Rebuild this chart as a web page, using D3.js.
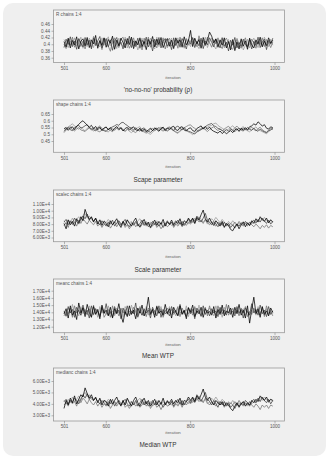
<!DOCTYPE html>
<html>
<head>
<meta charset="utf-8">
<script src="https://cdn.jsdelivr.net/npm/d3@7"></script>
<style>
  body { margin: 0; background: #fff; }
  .tick text { fill: #555; }
  .tick line { stroke: #777; }
</style>
</head>
<body>
<div class="container"></div>
<script>
// iterations kept after burn-in, thinned every 5
const iterations = d3.range(501, 1001, 5);
const xTicks = [501, 600, 800, 1000];

// 'no-no-no' probability, 4 chains
const pChains = [
  [0.408,0.392,0.418,0.389,0.411,0.398,0.422,0.386,0.409,0.416,
   0.395,0.42,0.39,0.413,0.401,0.426,0.388,0.41,0.397,0.419,
   0.391,0.414,0.403,0.424,0.385,0.412,0.396,0.418,0.405,0.389,
   0.417,0.399,0.421,0.387,0.41,0.398,0.419,0.393,0.408,0.384,
   0.414,0.4,0.423,0.392,0.415,0.399,0.42,0.39,0.407,0.417,
   0.394,0.412,0.387,0.419,0.403,0.413,0.391,0.422,0.398,0.41,
   0.441,0.393,0.418,0.401,0.414,0.388,0.42,0.399,0.411,0.436,
   0.424,0.404,0.416,0.391,0.413,0.397,0.419,0.389,0.408,0.383,
   0.414,0.381,0.407,0.386,0.416,0.394,0.41,0.385,0.418,0.398,
   0.389,0.413,0.4,0.421,0.392,0.409,0.396,0.419,0.403,0.412],
  [0.39,0.415,0.399,0.422,0.393,0.409,0.385,0.417,0.404,0.392,
   0.42,0.398,0.412,0.386,0.418,0.396,0.41,0.423,0.389,0.404,
   0.417,0.392,0.413,0.382,0.409,0.42,0.394,0.406,0.386,0.415,
   0.4,0.424,0.39,0.41,0.396,0.418,0.388,0.412,0.402,0.421,
   0.392,0.408,0.38,0.415,0.398,0.42,0.389,0.41,0.417,0.394,
   0.406,0.384,0.419,0.396,0.412,0.391,0.417,0.403,0.386,0.414,
   0.4,0.42,0.39,0.409,0.395,0.418,0.387,0.41,0.398,0.419,
   0.406,0.392,0.415,0.403,0.389,0.418,0.394,0.406,0.38,0.412,
   0.397,0.42,0.389,0.405,0.393,0.415,0.4,0.391,0.414,0.386,
   0.409,0.396,0.421,0.39,0.406,0.415,0.384,0.411,0.4,0.418],
  [0.4,0.387,0.414,0.397,0.421,0.391,0.407,0.415,0.393,0.409,
   0.386,0.414,0.403,0.39,0.423,0.4,0.395,0.412,0.384,0.418,
   0.405,0.394,0.379,0.41,0.419,0.398,0.39,0.415,0.421,0.397,
   0.409,0.388,0.403,0.419,0.392,0.406,0.414,0.383,0.418,0.399,
   0.421,0.391,0.412,0.404,0.389,0.415,0.397,0.419,0.386,0.409,
   0.418,0.395,0.404,0.412,0.388,0.421,0.401,0.391,0.415,0.397,
   0.409,0.418,0.403,0.393,0.425,0.399,0.412,0.395,0.421,0.405,
   0.391,0.414,0.401,0.419,0.397,0.387,0.41,0.418,0.403,0.39,
   0.385,0.406,0.414,0.397,0.388,0.405,0.419,0.395,0.4,0.415,
   0.403,0.388,0.41,0.399,0.419,0.393,0.414,0.403,0.39,0.407],
  [0.414,0.403,0.39,0.41,0.399,0.419,0.395,0.405,0.421,0.388,
   0.412,0.393,0.418,0.406,0.39,0.415,0.401,0.392,0.419,0.397,
   0.41,0.422,0.396,0.403,0.414,0.387,0.418,0.401,0.393,0.421,
   0.389,0.412,0.415,0.395,0.407,0.383,0.403,0.418,0.391,0.414,
   0.401,0.418,0.395,0.386,0.421,0.393,0.409,0.403,0.415,0.389,
   0.405,0.418,0.391,0.401,0.419,0.397,0.407,0.388,0.418,0.403,
   0.393,0.409,0.415,0.397,0.387,0.412,0.403,0.421,0.39,0.407,
   0.418,0.396,0.386,0.412,0.403,0.421,0.389,0.401,0.414,0.393,
   0.407,0.39,0.418,0.401,0.412,0.383,0.397,0.415,0.389,0.407,
   0.418,0.401,0.39,0.412,0.395,0.421,0.405,0.393,0.415,0.397]
];
const pTicks = [0.36, 0.38, 0.40, 0.42, 0.44, 0.46];

// shape parameter
const shapeChains = [
  [0.538,0.551,0.529,0.547,0.555,0.534,0.56,0.573,0.59,0.6,
   0.583,0.568,0.552,0.566,0.541,0.558,0.533,0.55,0.528,0.546,
   0.554,0.532,0.549,0.527,0.545,0.557,0.536,0.548,0.524,0.543,
   0.551,0.53,0.546,0.555,0.533,0.527,0.545,0.521,0.538,0.519,
   0.532,0.545,0.526,0.548,0.535,0.522,0.544,0.552,0.529,0.546,
   0.537,0.553,0.559,0.534,0.528,0.55,0.556,0.531,0.524,0.542,
   0.548,0.527,0.521,0.543,0.552,0.562,0.538,0.557,0.536,0.553,
   0.532,0.522,0.515,0.508,0.524,0.505,0.519,0.503,0.516,0.527,
   0.512,0.533,0.54,0.521,0.545,0.529,0.549,0.533,0.556,0.562,
   0.577,0.568,0.592,0.578,0.56,0.571,0.545,0.538,0.555,0.548],
  [0.522,0.54,0.551,0.533,0.527,0.549,0.558,0.566,0.545,0.552,
   0.563,0.571,0.548,0.541,0.534,0.525,0.547,0.554,0.532,0.526,
   0.521,0.539,0.546,0.555,0.562,0.572,0.566,0.584,0.589,0.575,
   0.565,0.552,0.546,0.531,0.549,0.532,0.523,0.541,0.547,0.53,
   0.522,0.514,0.528,0.539,0.546,0.527,0.537,0.551,0.531,0.524,
   0.536,0.545,0.527,0.552,0.561,0.544,0.533,0.55,0.531,0.522,
   0.517,0.509,0.503,0.516,0.528,0.534,0.545,0.556,0.567,0.574,
   0.58,0.562,0.557,0.543,0.538,0.527,0.521,0.536,0.523,0.54,
   0.527,0.519,0.535,0.544,0.53,0.547,0.533,0.551,0.537,0.529,
   0.545,0.53,0.522,0.538,0.526,0.518,0.512,0.525,0.533,0.545],
  [0.512,0.532,0.545,0.556,0.534,0.525,0.539,0.549,0.532,0.527,
   0.52,0.536,0.546,0.531,0.549,0.535,0.524,0.518,0.533,0.545,
   0.552,0.537,0.528,0.519,0.535,0.546,0.53,0.551,0.536,0.523,
   0.538,0.549,0.529,0.52,0.513,0.528,0.54,0.524,0.517,0.508,
   0.522,0.536,0.544,0.527,0.54,0.55,0.533,0.523,0.538,0.546,
   0.555,0.536,0.527,0.518,0.511,0.527,0.539,0.548,0.557,0.566,
   0.57,0.553,0.544,0.531,0.522,0.538,0.549,0.533,0.52,0.535,
   0.546,0.556,0.538,0.527,0.541,0.525,0.539,0.55,0.559,0.541,
   0.532,0.547,0.56,0.544,0.531,0.523,0.54,0.528,0.542,0.553,
   0.536,0.525,0.541,0.552,0.533,0.522,0.514,0.531,0.544,0.534],
  [0.548,0.533,0.556,0.565,0.578,0.56,0.549,0.536,0.553,0.535,
   0.526,0.544,0.554,0.535,0.524,0.539,0.552,0.563,0.546,0.532,
   0.525,0.516,0.535,0.545,0.528,0.547,0.557,0.539,0.53,0.52,
   0.537,0.521,0.512,0.527,0.538,0.549,0.556,0.534,0.526,0.516,
   0.508,0.499,0.516,0.528,0.537,0.546,0.553,0.534,0.525,0.54,
   0.553,0.536,0.525,0.514,0.506,0.522,0.533,0.545,0.526,0.516,
   0.509,0.497,0.511,0.523,0.535,0.544,0.551,0.533,0.553,0.561,
   0.566,0.578,0.583,0.565,0.554,0.545,0.534,0.524,0.539,0.551,
   0.563,0.545,0.536,0.527,0.545,0.557,0.538,0.526,0.518,0.533,
   0.542,0.555,0.536,0.527,0.519,0.511,0.503,0.52,0.531,0.542]
];
const shapeTicks = [0.45, 0.50, 0.55, 0.60, 0.65];

// scale parameter
const scaleChains = [
  [8100,7300,8600,7900,8400,7700,8800,8200,9100,8500,
   10200,9300,8700,9100,8300,8900,8000,8600,7800,8400,
   8100,7600,8500,7900,8300,8800,8000,7500,8400,7800,
   8600,8100,7700,8400,8900,8000,7600,8200,8700,7900,
   8300,7500,8100,8600,7800,8400,8000,8700,7700,8300,
   8000,8600,7900,8400,8100,8800,7800,8500,8200,8900,
   8400,8900,8100,9000,8600,9400,10100,8800,8300,8900,
   8200,7800,8500,8100,7700,8400,7500,8100,7800,7200,
   7000,7600,8000,7300,7900,8300,7600,8200,7800,8500,
   8100,8800,8300,9100,8700,8400,8900,8200,8600,8300],
  [8300,8700,7900,8500,8100,8900,8400,8000,8700,9200,
   8800,9500,8600,9000,8400,8800,8200,7900,8500,8100,
   7800,8300,8000,8600,7700,8200,8500,7900,8300,8700,
   8000,7600,8200,7900,8400,7700,8100,8600,7800,8200,
   7600,8000,8400,7900,8300,7700,8200,7500,8000,8500,
   7900,8300,7700,8100,8600,8000,8400,7800,8300,8700,
   8200,8800,8400,9200,8700,8300,8900,9600,8600,8200,
   7900,8400,8000,7600,8200,7800,8300,7700,8100,7500,
   7900,7400,8000,7700,8200,7900,8400,8100,7800,8300,
   8600,8200,8700,8300,8900,8500,8100,8600,8000,8400],
  [7800,8200,7500,8400,7900,8300,7700,8600,8100,8800,
   8400,8000,8600,8200,7900,8400,7700,8100,7500,8000,
   7700,8200,7400,7900,8300,7600,8100,7800,8400,7500,
   7900,7300,7800,8200,7600,8000,7500,7900,8300,7700,
   8100,7400,7800,8200,7500,7900,7300,7800,8100,7600,
   7900,8300,7500,8000,7700,8200,7600,8100,7800,8300,
   8000,8500,8100,8800,8300,8600,8100,8700,8200,7900,
   8400,8000,7700,8300,7900,8200,7600,8000,7700,8100,
   7800,8300,7900,8400,8000,7700,8200,7800,8300,7900,
   7600,8000,7700,7300,7800,7500,7900,7400,7800,7600],
  [8500,8000,8700,8200,8900,8300,8700,9100,8600,9300,
   9600,8900,9200,8700,8500,8900,8300,8700,8100,8500,
   8200,8700,8300,7900,8400,8000,8500,8100,7800,8300,
   8700,8200,8400,7800,8100,8500,8800,8200,7900,8400,
   8000,8300,7700,8100,8500,8200,7800,8300,7900,8400,
   8100,7800,8200,8500,7900,8300,7700,8000,8400,8000,
   8600,8200,8900,8500,9100,8700,8300,8600,8000,8400,
   8800,8500,9000,8600,8200,8700,8300,7900,8400,8000,
   8500,8100,7700,8200,7800,8400,8000,7700,8300,8000,
   8400,8100,8600,8900,8500,9000,8600,8200,8700,8300]
];
const scaleTicks = [6000, 7000, 8000, 9000, 10000, 11000];

// mean WTP
const meanChains = [
  [13800,14500,13200,14900,13600,14200,13000,15300,13900,14600,
   13400,15100,14000,13300,14800,13700,14400,13100,15000,13900,
   14300,13500,14700,13200,14500,13800,15200,13600,12600,14100,
   13400,14900,13700,14300,13100,14600,13900,15000,13500,14200,
   16100,13700,14400,13300,14800,13900,14200,13600,15100,13800,
   14500,13200,14700,14000,13500,14900,13700,14300,13100,14600,
   14000,15000,13400,14200,13800,14700,13300,14500,13900,14100,
   13600,14800,13200,14400,13700,15000,13500,14200,13900,14600,
   13300,14700,13800,15100,13600,14300,13200,14900,12500,14400,
   16100,13800,14500,13300,14800,13700,14200,13500,14600,14000],
  [14200,13500,14800,13900,14400,13300,14700,14100,13600,15000,
   13800,14300,13200,14900,13700,14500,14000,13400,14600,13800,
   15200,13600,14100,13300,14800,13900,14300,13100,14600,13700,
   14900,13500,14200,13800,15300,13400,14100,13600,14500,13900,
   14300,13200,14700,14000,13500,14900,13300,14400,13800,14100,
   13500,14800,13900,14300,13600,15100,13800,14200,13400,14700,
   13800,14400,13100,14600,14000,13500,14900,13700,14300,13500,
   14500,13900,14200,13400,14700,13800,14300,13600,15000,13700,
   14200,13500,14800,13900,14400,13200,14600,14100,13600,15200,
   13900,14400,13600,15000,13800,14300,13400,14800,13700,14200],
  [13500,14100,13800,14600,13300,14900,13900,14300,13600,14700,
   14100,13700,14500,13400,15000,13800,14200,13600,14800,13300,
   13800,14400,13300,14900,13700,14300,13500,14600,13900,14400,
   13600,14200,13800,14700,14000,13300,14800,13600,14300,13400,
   14600,13900,14300,13600,14900,13800,14500,13300,14200,14600,
   13900,14400,13700,14100,14800,13400,14600,13900,14400,13800,
   14300,13600,14800,13900,14400,13400,14100,14700,13500,14900,
   13800,14300,13600,14900,13900,14400,13700,15100,13600,14200,
   14500,13800,14300,13500,14600,13900,14800,13400,14100,13700,
   14600,13900,14200,13600,14700,13400,14900,13800,14100,13500],
  [14000,13400,14600,13900,15100,13700,14300,13500,14800,13800,
   14400,13600,14900,14100,13600,14500,13300,14800,13900,14400,
   13700,14900,13800,14200,13500,14600,13900,14400,13300,14800,
   14200,13600,15000,13900,14400,13700,14600,14100,13500,14800,
   13600,14500,13900,14300,13700,14100,14800,13500,14300,13700,
   14800,13600,14300,13500,14600,13900,14200,13700,14900,13400,
   14500,13900,14600,13700,15000,13600,14400,13800,14200,14600,
   14100,13500,14900,13900,14500,13300,14700,13900,14200,13800,
   14600,13900,14400,13700,14200,14500,13600,14100,13700,14900,
   14300,13600,14800,13900,14400,13900,14500,13600,14300,13800]
];
const meanTicks = [12000, 13000, 14000, 15000, 16000, 17000];

// median WTP
const medianChains = [
  [3600,4300,3900,4500,4100,4700,4000,4400,4800,4600,
   5400,4900,4500,4800,4300,4600,4100,4500,3900,4300,
   4200,3800,4400,4000,4300,4600,4100,3800,4300,3900,
   4500,4100,3800,4300,4600,4100,3800,4200,4500,4000,
   4300,3800,4100,4400,3900,4300,4000,4500,3900,4200,
   4100,4400,4000,4300,4100,4500,3900,4300,4200,4600,
   4300,4600,4200,4700,4400,4800,5300,4600,4300,4600,
   4200,3900,4300,4100,3900,4200,3800,4100,3900,3600,
   3400,3800,4100,3700,4000,4200,3800,4100,3900,4300,
   4100,4400,4200,4700,4500,4300,4600,4200,4400,4300],
  [4200,4400,4000,4300,4100,4500,4300,4000,4400,4800,
   4500,4900,4400,4600,4300,4500,4200,4000,4300,4100,
   3900,4200,4000,4400,3800,4100,4300,3900,4200,4400,
   4000,3800,4200,3900,4300,3800,4100,4400,3900,4200,
   3800,4000,4300,3900,4200,3800,4100,3700,4000,4300,
   3900,4200,3800,4100,4400,4000,4300,3900,4200,4400,
   4100,4500,4200,4800,4500,4200,4600,5000,4400,4200,
   3900,4300,4000,3700,4200,3900,4200,3800,4100,3700,
   3900,3600,4000,3800,4100,3900,4300,4100,3800,4200,
   4400,4100,4500,4200,4600,4300,4100,4400,4000,4300],
  [3900,4100,3800,4300,4000,4200,3800,4400,4100,4500,
   4300,4000,4400,4100,3900,4200,3800,4100,3700,4000,
   3800,4100,3600,3900,4200,3800,4100,3900,4300,3700,
   3900,3600,3900,4100,3800,4000,3700,3900,4200,3800,
   4100,3600,3900,4100,3700,3900,3500,3900,4100,3800,
   3900,4200,3700,4000,3800,4100,3700,4100,3900,4200,
   4000,4300,4100,4500,4200,4400,4100,4500,4100,3900,
   4200,4000,3800,4200,3900,4100,3700,4000,3800,4100,
   3900,4200,3900,4300,4000,3800,4100,3900,4200,3900,
   3700,4000,3800,3500,3900,3700,3900,3600,3900,3800],
  [4300,4000,4400,4100,4600,4200,4400,4700,4300,4800,
   5000,4600,4800,4400,4300,4500,4200,4400,4100,4300,
   4100,4400,4200,3900,4200,4000,4300,4100,3900,4100,
   4400,4100,4200,3900,4100,4300,4500,4100,3900,4200,
   4000,4200,3800,4000,4300,4100,3900,4200,4000,4200,
   4000,3900,4100,4300,3900,4200,3800,4000,4200,4000,
   4300,4100,4500,4300,4700,4400,4200,4400,4000,4200,
   4500,4300,4600,4300,4100,4400,4200,3900,4200,4000,
   4300,4000,3800,4100,3900,4200,4000,3800,4200,4000,
   4200,4100,4400,4600,4300,4600,4400,4100,4400,4200]
];
const medianTicks = [3000, 4000, 5000, 6000];

const chainLabels = ['R chains 1:4', 'shape chains 1:4', 'scalec chains 1:4', 'meanc chains 1:4', 'medianc chains 1:4'];
const titles = ["'no-no-no' probability (\u03c1)", 'Scape parameter', 'Scale parameter', 'Mean WTP', 'Median WTP'];

const WIDTH = 331;
const HEIGHT = 460;
const BOX_LEFT = 53.5;
const BOX_RIGHT = 284.5;
const CHAIN_COLORS = ['#000', '#404040', '#707070', '#999'];
const FONT = "'Liberation Sans', Arial, sans-serif";

var sciFmt = function(d) { return d3.format('.2e')(d).toUpperCase(); };
var decFmt = d3.format('~g');

// layout of each panel (pixel positions)
var panels = [
  {chains: pChains, ticks: pTicks, fmt: decFmt, top: 10, bottom: 62.5, tTop: 24, tBot: 57.7, iterY: 77.3, titleY: 89.3},
  {chains: shapeChains, ticks: shapeTicks, fmt: decFmt, top: 100, bottom: 152.3, tTop: 114, tBot: 141, iterY: 166.7, titleY: 179.3},
  {chains: scaleChains, ticks: scaleTicks, fmt: sciFmt, top: 190, bottom: 241.7, tTop: 204, tBot: 237.5, iterY: 256, titleY: 269.3},
  {chains: meanChains, ticks: meanTicks, fmt: sciFmt, top: 279, bottom: 332.7, tTop: 290.7, tBot: 326.7, iterY: 344, titleY: 355.7},
  {chains: medianChains, ticks: medianTicks, fmt: sciFmt, top: 368, bottom: 421, tTop: 381, tBot: 415.3, iterY: 432.7, titleY: 444}
];

var svg = d3.select('.container').append('svg')
  .attr('width', WIDTH)
  .attr('height', HEIGHT)
  .style('display', 'block')
  .style('font-family', FONT);

svg.append('rect').attr('width', WIDTH).attr('height', HEIGHT).attr('fill', '#fff');
svg.append('rect')
  .attr('x', 3).attr('y', 3)
  .attr('width', 323).attr('height', 453)
  .attr('rx', 10)
  .attr('fill', '#efefef');

var xScale = d3.scaleLinear().domain([501, 1000]).range([64, 274.5]);

panels.forEach(function(p, k) {
  var g = svg.append('g');
  var yScale = d3.scaleLinear()
    .domain([p.ticks[0], p.ticks[p.ticks.length - 1]])
    .range([p.tBot, p.tTop]);

  g.append('clipPath').attr('id', 'clip' + k)
    .append('rect')
    .attr('x', BOX_LEFT).attr('y', p.top)
    .attr('width', BOX_RIGHT - BOX_LEFT).attr('height', p.bottom - p.top);

  g.append('rect')
    .attr('x', BOX_LEFT).attr('y', p.top)
    .attr('width', BOX_RIGHT - BOX_LEFT).attr('height', p.bottom - p.top)
    .attr('fill', '#f3f3f3')
    .attr('stroke', '#9a9a9a')
    .attr('stroke-width', 0.8);

  var line = d3.line()
    .x(function(d, i) { return xScale(iterations[i]); })
    .y(function(d) { return yScale(d); });

  // light chains first, black on top
  var order = [3, 2, 1, 0];
  g.append('g').attr('clip-path', 'url(#clip' + k + ')')
    .selectAll('path')
    .data(order)
    .enter().append('path')
    .attr('d', function(c) { return line(p.chains[c]); })
    .attr('fill', 'none')
    .attr('stroke', function(c) { return CHAIN_COLORS[c]; })
    .attr('stroke-width', 0.75);

  var yAxis = d3.axisLeft(yScale).tickValues(p.ticks).tickSize(2).tickPadding(1.5).tickFormat(p.fmt);
  var ya = g.append('g')
    .attr('transform', 'translate(' + BOX_LEFT + ',0)')
    .call(yAxis);
  ya.select('.domain').remove();
  ya.selectAll('text').attr('font-size', 4.6).attr('font-family', FONT);
  ya.selectAll('line').attr('stroke-width', 0.5);

  var xAxis = d3.axisBottom(xScale).tickValues(xTicks).tickSize(2.5).tickPadding(1.5).tickFormat(d3.format('d'));
  var xa = g.append('g')
    .attr('transform', 'translate(0,' + p.bottom + ')')
    .call(xAxis);
  xa.select('.domain').remove();
  xa.selectAll('text').attr('font-size', 4.6).attr('font-family', FONT);
  xa.selectAll('line').attr('stroke-width', 0.5);

  g.append('text')
    .attr('x', BOX_LEFT + 2.5).attr('y', p.top + 4)
    .attr('dominant-baseline', 'central')
    .attr('font-size', 4.6)
    .attr('fill', '#555')
    .text(chainLabels[k]);

  g.append('text')
    .attr('x', 173).attr('y', p.iterY)
    .attr('text-anchor', 'middle')
    .attr('dominant-baseline', 'central')
    .attr('font-size', 4.4)
    .attr('fill', '#666')
    .text('iteration');

  g.append('text')
    .attr('x', 158).attr('y', p.titleY)
    .attr('text-anchor', 'middle')
    .attr('dominant-baseline', 'central')
    .attr('font-size', 6.4)
    .attr('fill', '#333')
    .text(titles[k]);
});
</script>
</body>
</html>
